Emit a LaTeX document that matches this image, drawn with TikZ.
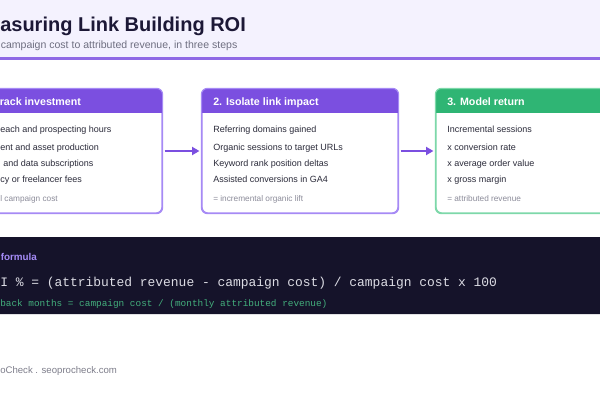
\documentclass[tikz,border=0pt]{standalone}
\usepackage{fontspec}
\setmainfont{Liberation Sans}
\setmonofont{Liberation Mono}
\usetikzlibrary{arrows.meta}
\definecolor{band}{HTML}{F4F2FE}
\definecolor{purp}{HTML}{7B4FE0}
\definecolor{purpline}{HTML}{A68AF5}
\definecolor{grn}{HTML}{2FB574}
\definecolor{grnline}{HTML}{7DD8A9}
\definecolor{titlec}{HTML}{1C1836}
\definecolor{subc}{HTML}{6E6E80}
\definecolor{bodyc}{HTML}{2B2B3A}
\definecolor{mutec}{HTML}{8C8C9A}
\definecolor{darkp}{HTML}{15132A}
\definecolor{labc}{HTML}{A48BF6}
\definecolor{monoc}{HTML}{DCDCE4}
\definecolor{paygc}{HTML}{43AE7C}
\tikzset{
  px/.style={x=0.75pt,y=-0.75pt},
  stepbox/.style={rectangle,rounded corners=4.5pt,minimum width=147pt,minimum height=93pt,inner sep=0pt,fill=white,line width=0.9pt},
  hdr/.style={anchor=base west,inner sep=0pt,text=white,font=\bfseries\fontsize{8}{9.6}\selectfont},
  item/.style={anchor=base west,inner sep=0pt,text=bodyc,font=\fontsize{6.75}{8}\selectfont},
  note/.style={anchor=base west,inner sep=0pt,text=mutec,font=\fontsize{6.2}{7.5}\selectfont},
  arr/.style={draw=purp,line width=1.9pt,-{Triangle[length=5.5pt,width=6pt]}},
}
\begin{document}
\begin{tikzpicture}[px]
\useasboundingbox (0,0) rectangle (600,400);
\clip (0,0) rectangle (600,400);
\fill[white] (0,0) rectangle (600,400);
% top band
\fill[band] (0,0) rectangle (600,57.5);
\fill[purp!85!white] (0,57) rectangle (600,59.5);
\node[anchor=base west,inner sep=0pt,text=titlec,font=\bfseries\fontsize{15}{18}\selectfont] (title) at (0,31) {asuring Link Building ROI};
\node[anchor=base west,inner sep=0pt,text=subc,font=\fontsize{7.9}{9.5}\selectfont] (sub) at (0.5,48) {campaign cost to attributed revenue, in three steps};
% boxes
\node[stepbox,draw=purpline] (b1) at (-34+98,151) {};
\node[stepbox,draw=purpline] (b2) at (202+98,151) {};
\node[stepbox,draw=grnline] (b3) at (436+98,151) {};
\begin{scope}
\clip[rounded corners=4.5pt] (b1.south west) rectangle (b1.north east);
\fill[purp] (b1.north west) rectangle ([yshift=-18.8pt]b1.north east);
\end{scope}
\begin{scope}
\clip[rounded corners=4.5pt] (b2.south west) rectangle (b2.north east);
\fill[purp] (b2.north west) rectangle ([yshift=-18.8pt]b2.north east);
\end{scope}
\begin{scope}
\clip[rounded corners=4.5pt] (b3.south west) rectangle (b3.north east);
\fill[grn] (b3.north west) rectangle ([yshift=-18.8pt]b3.north east);
\end{scope}
\draw[purpline,line width=0.9pt,rounded corners=4.5pt] (b1.south west) rectangle (b1.north east);
\draw[purpline,line width=0.9pt,rounded corners=4.5pt] (b2.south west) rectangle (b2.north east);
\draw[grnline,line width=0.9pt,rounded corners=4.5pt] (b3.south west) rectangle (b3.north east);
% box 1 text
\node[hdr] (h1) at (-0.5,105) {rack investment};
\node[item] (i11) at (0,132) {each and prospecting hours};
\node[item] (i12) at (0,150) {ent and asset production};
\node[item] (i13) at (3,166) {and data subscriptions};
\node[item] (i14) at (0,182) {cy or freelancer fees};
\node[note] (n1) at (0,201) {l campaign cost};
% box 2 text
\node[hdr] (h2) at (213,105) {2. Isolate link impact};
\node[item] (i21) at (213,132) {Referring domains gained};
\node[item] (i22) at (213,150) {Organic sessions to target URLs};
\node[item] (i23) at (213,166) {Keyword rank position deltas};
\node[item] (i24) at (213,182) {Assisted conversions in GA4};
\node[note] (n2) at (213,201) {= incremental organic lift};
% box 3 text
\node[hdr] (h3) at (447,105) {3. Model return};
\node[item] (i31) at (447,132) {Incremental sessions};
\node[item] (i32) at (447,150) {x conversion rate};
\node[item] (i33) at (447,166) {x average order value};
\node[item] (i34) at (447,182) {x gross margin};
\node[note] (n3) at (447,201) {= attributed revenue};
% arrows
\draw[arr] ([xshift=1.5pt]b1.east) -- ([xshift=-1.5pt]b2.west);
\draw[arr] ([xshift=1.5pt]b2.east) -- ([xshift=-1.5pt]b3.west);
% formula panel
\fill[darkp,rounded corners=4pt] (-20,237) rectangle (640,314);
\node[anchor=base west,inner sep=0pt,text=labc,font=\bfseries\fontsize{7.4}{9}\selectfont] (fl) at (0.5,260.5) {formula};
\node[anchor=base west,inner sep=0pt,text=monoc,font=\ttfamily\fontsize{9.7}{11}\selectfont] (roi) at (0,286.5) {I \% = (attributed revenue - campaign cost) / campaign cost x 100};
\node[anchor=base west,inner sep=0pt,text=paygc,font=\ttfamily\fontsize{7.05}{8.5}\selectfont] (pay) at (0,306) {back months = campaign cost / (monthly attributed revenue)};
% footer
\node[anchor=base west,inner sep=0pt,text=mutec!90!black,font=\fontsize{7.2}{8.6}\selectfont] (foot) at (0,373.5) {oCheck . seoprocheck.com};
\end{tikzpicture}
\end{document}
